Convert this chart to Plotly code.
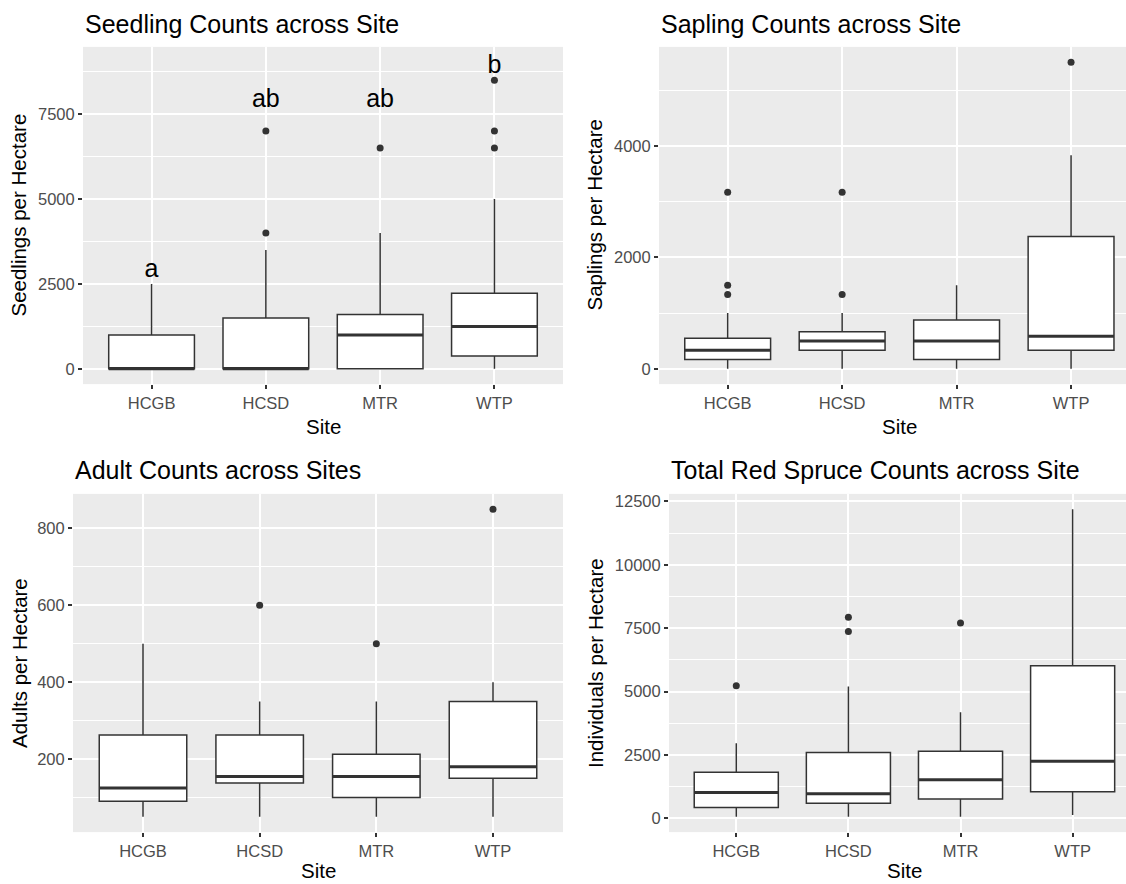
import plotly.graph_objects as go

W, H = 1126, 884

sites = ["HCGB", "HCSD", "MTR", "WTP"]

# Seedlings per hectare
seed_lower = [0, 0, 0, 0]
seed_q1 = [0, 0, 0, 375]
seed_median = [0, 0, 1000, 1250]
seed_q3 = [1000, 1500, 1600, 2225]
seed_upper = [2500, 3500, 4000, 5000]
seed_out_site = ["HCSD", "HCSD", "MTR", "WTP", "WTP", "WTP"]
seed_out_val = [4000, 7000, 6500, 6500, 7000, 8500]
seed_letters = ["a", "ab", "ab", "b"]
seed_letter_y = [2900, 7900, 7900, 8900]

# Saplings per hectare
sap_lower = [0, 0, 0, 0]
sap_q1 = [167, 333, 167, 333]
sap_median = [333, 500, 500, 583]
sap_q3 = [550, 667, 875, 2375]
sap_upper = [1000, 1000, 1500, 3833]
sap_out_site = ["HCGB", "HCGB", "HCGB", "HCSD", "HCSD", "WTP"]
sap_out_val = [1333, 1500, 3167, 1333, 3167, 5500]

# Adults per hectare
adult_lower = [50, 50, 50, 50]
adult_q1 = [90, 137.5, 100, 150]
adult_median = [125, 155, 155, 180]
adult_q3 = [262.5, 262.5, 212.5, 350]
adult_upper = [500, 350, 350, 400]
adult_out_site = ["HCSD", "MTR", "WTP"]
adult_out_val = [600, 500, 850]

# Total red spruce individuals per hectare
total_lower = [67, 67, 67, 133]
total_q1 = [433, 600, 767, 1050]
total_median = [1025, 975, 1525, 2250]
total_q3 = [1817, 2600, 2650, 6017]
total_upper = [2967, 5200, 4183, 12183]
total_out_site = ["HCGB", "HCSD", "HCSD", "MTR"]
total_out_val = [5233, 7367, 7933, 7700]

EDGE = "#333333"
TICKC = "#4D4D4D"
FONT = "Liberation Sans, Arial, sans-serif"
BW = 0.75

panels = [
    dict(title="Seedling Counts across Site", ytitle="Seedlings per Hectare",
         lower=seed_lower, q1=seed_q1, med=seed_median, q3=seed_q3, upper=seed_upper,
         osite=seed_out_site, oval=seed_out_val,
         px=(83, 563), py=(45, 383), xr=(-0.6, 3.6), yr=(-450, 9480),
         dtick=2500, mdtick=1250, title_y=22, xt_y=425, yt_x=19, full_right=563),
    dict(title="Sapling Counts across Site", ytitle="Saplings per Hectare",
         lower=sap_lower, q1=sap_q1, med=sap_median, q3=sap_q3, upper=sap_upper,
         osite=sap_out_site, oval=sap_out_val,
         px=(659, 1126), py=(45, 383), xr=(-0.6, 3.48), yr=(-275, 5775),
         dtick=2000, mdtick=1000, title_y=22, xt_y=425, yt_x=595, full_right=1139),
    dict(title="Adult Counts across Sites", ytitle="Adults per Hectare",
         lower=adult_lower, q1=adult_q1, med=adult_median, q3=adult_q3, upper=adult_upper,
         osite=adult_out_site, oval=adult_out_val,
         px=(73, 563), py=(493, 832), xr=(-0.6, 3.6), yr=(10, 890),
         dtick=200, mdtick=100, title_y=469, xt_y=870, yt_x=19, full_right=563),
    dict(title="Total Red Spruce Counts across Site", ytitle="Individuals per Hectare",
         lower=total_lower, q1=total_q1, med=total_median, q3=total_q3, upper=total_upper,
         osite=total_out_site, oval=total_out_val,
         px=(669, 1126), py=(493, 832), xr=(-0.6, 3.476), yr=(-539, 12792),
         dtick=2500, mdtick=1250, title_y=469, xt_y=870, yt_x=595, full_right=1140),
]

fig = go.Figure()
annotations = []
xpos = list(range(len(sites)))
idx = {s: i for i, s in enumerate(sites)}

for k, p in enumerate(panels):
    n = "" if k == 0 else str(k + 1)
    xa, ya = "x" + n, "y" + n
    fig.add_trace(go.Box(
        x=xpos, q1=p["q1"], median=p["med"], q3=p["q3"],
        lowerfence=p["lower"], upperfence=p["upper"],
        width=BW, whiskerwidth=0, boxpoints=False,
        fillcolor="white", line=dict(color=EDGE, width=1.5),
        xaxis=xa, yaxis=ya, showlegend=False, hoverinfo="skip"))
    mx, my = [], []
    for i, m in enumerate(p["med"]):
        mx += [i - BW / 2, i + BW / 2, None]
        my += [m, m, None]
    fig.add_trace(go.Scatter(x=mx, y=my, mode="lines",
                             line=dict(color=EDGE, width=3),
                             xaxis=xa, yaxis=ya, showlegend=False, hoverinfo="skip"))
    fig.add_trace(go.Scatter(x=[idx[s] for s in p["osite"]], y=p["oval"], mode="markers",
                             marker=dict(color=EDGE, size=7),
                             xaxis=xa, yaxis=ya, showlegend=False, hoverinfo="skip"))
    if k == 0:
        fig.add_trace(go.Scatter(x=xpos, y=seed_letter_y, mode="text", text=seed_letters,
                                 textfont=dict(family=FONT, size=25, color="black"),
                                 textposition="middle center",
                                 xaxis=xa, yaxis=ya, showlegend=False, hoverinfo="skip"))

    x0, x1 = p["px"]
    y0, y1 = p["py"]
    fig.update_layout(**{
        "xaxis" + n: dict(domain=[x0 / W, x1 / W], range=list(p["xr"]),
                          tickmode="array", tickvals=xpos, ticktext=sites,
                          showgrid=True, gridcolor="white", gridwidth=1.5,
                          zeroline=False, showline=False,
                          ticks="outside", ticklen=4, tickwidth=1.5, tickcolor=EDGE,
                          tickfont=dict(family=FONT, size=16.5, color=TICKC),
                          anchor=ya, fixedrange=True),
        "yaxis" + n: dict(domain=[1 - y1 / H, 1 - y0 / H], range=list(p["yr"]),
                          tick0=0, dtick=p["dtick"], tickformat="d",
                          showgrid=True, gridcolor="white", gridwidth=1.5,
                          minor=dict(tick0=0, dtick=p["mdtick"], showgrid=True,
                                     gridcolor="white", gridwidth=0.75, ticks=""),
                          zeroline=False, showline=False,
                          ticks="outside", ticklen=4, tickwidth=1.5, tickcolor=EDGE,
                          tickfont=dict(family=FONT, size=16.5, color=TICKC),
                          anchor=xa, fixedrange=True),
    })
    annotations.append(dict(text=p["title"], xref="paper", yref="paper",
                            x=x0 / W, y=1 - p["title_y"] / H, xanchor="left", yanchor="middle",
                            showarrow=False, font=dict(family=FONT, size=25, color="black")))
    annotations.append(dict(text="Site", xref="paper", yref="paper",
                            x=(x0 + p["full_right"]) / 2 / W, y=1 - p["xt_y"] / H,
                            xanchor="center", yanchor="middle",
                            showarrow=False, font=dict(family=FONT, size=20.5, color="black")))
    annotations.append(dict(text=p["ytitle"], xref="paper", yref="paper",
                            x=p["yt_x"] / W, y=1 - (y0 + y1) / 2 / H, textangle=-90,
                            xanchor="center", yanchor="middle",
                            showarrow=False, font=dict(family=FONT, size=20.5, color="black")))

fig.update_layout(width=W, height=H, margin=dict(l=0, r=0, t=0, b=0),
                  paper_bgcolor="white", plot_bgcolor="#EBEBEB",
                  annotations=annotations, showlegend=False)

fig.write_html("out.html", config={"displayModeBar": False})
